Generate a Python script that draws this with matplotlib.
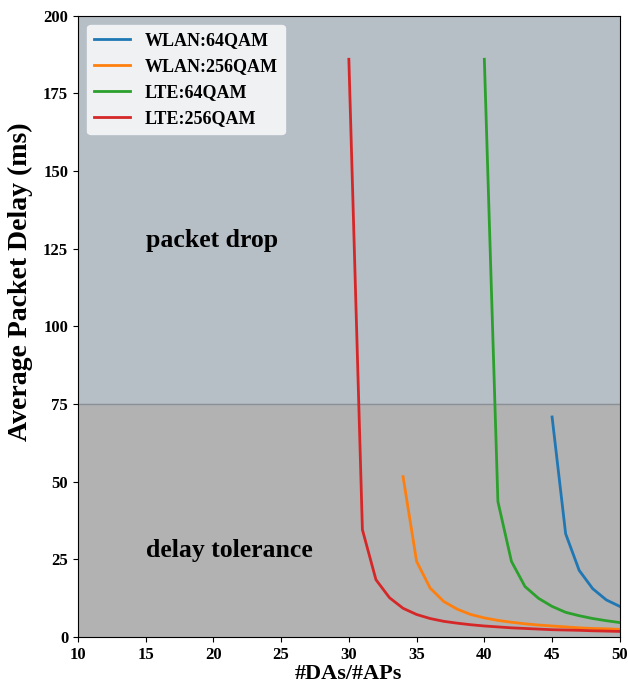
import matplotlib
matplotlib.use("Agg")
import matplotlib.pyplot as plt

plt.rcParams['font.family'] = ['Liberation Serif', 'DejaVu Serif']
plt.rcParams['font.weight'] = 'bold'

# data
x_wlan64 = [45, 46, 47, 48, 49, 50]
y_wlan64 = [70.8, 33.2, 21.4, 15.5, 11.9, 9.8]

x_wlan256 = list(range(34, 51))
y_wlan256 = [51.6, 24.3, 15.7, 11.4, 8.9, 7.2, 6.1, 5.3, 4.7, 4.2, 3.8, 3.5, 3.2, 2.9, 2.7, 2.6, 2.4]

x_lte64 = list(range(40, 51))
y_lte64 = [186, 43.6, 24.3, 16.2, 12.4, 9.8, 7.9, 6.8, 5.9, 5.2, 4.6]

x_lte256 = list(range(30, 51))
y_lte256 = [186, 34.5, 18.4, 12.6, 9.2, 7.2, 5.9, 5.0, 4.4, 3.9, 3.5, 3.2, 2.9,
            2.7, 2.5, 2.3, 2.2, 2.1, 1.95, 1.85, 1.75]

threshold = 75
x_ticks = [10, 15, 20, 25, 30, 35, 40, 45, 50]
y_ticks = [0, 25, 50, 75, 100, 125, 150, 175, 200]

fig = plt.figure(figsize=(6.28, 6.87), dpi=100)
ax = fig.add_axes([0.124, 0.073, 0.863, 0.904])

# shaded regions
ax.axhspan(threshold, 200, color='#b6bec6', zorder=0)
ax.axhspan(0, threshold, color='#b2b2b2', zorder=0)
ax.axhline(threshold, color='#8a9096', linewidth=1, zorder=1)

ax.plot(x_wlan64, y_wlan64, color='#1f77b4', linewidth=2, label='WLAN:64QAM')
ax.plot(x_wlan256, y_wlan256, color='#ff7f0e', linewidth=2, label='WLAN:256QAM')
ax.plot(x_lte64, y_lte64, color='#2ca02c', linewidth=2, label='LTE:64QAM')
ax.plot(x_lte256, y_lte256, color='#d62728', linewidth=2, label='LTE:256QAM')

ax.text(15, 127.5, 'packet drop', fontsize=18.5, fontweight='bold', va='center')
ax.text(15, 27.7, 'delay tolerance', fontsize=18.5, fontweight='bold', va='center')

ax.set_xlim(10, 50)
ax.set_ylim(0, 200)
ax.set_xticks(x_ticks)
ax.set_yticks(y_ticks)
ax.tick_params(labelsize=12)
for lab in ax.get_xticklabels() + ax.get_yticklabels():
    lab.set_fontweight('bold')

ax.set_xlabel('#DAs/#APs', fontsize=16, fontweight='bold', labelpad=1)
ax.set_ylabel('Average Packet Delay (ms)', fontsize=20, fontweight='bold')
ax.yaxis.set_label_coords(-0.082, 0.572)

leg = ax.legend(loc='upper left', facecolor='#f0f1f3', framealpha=1,
                edgecolor='#f0f1f3', prop={'weight': 'bold', 'size': 13})

fig.savefig('out.png', dpi=100)
